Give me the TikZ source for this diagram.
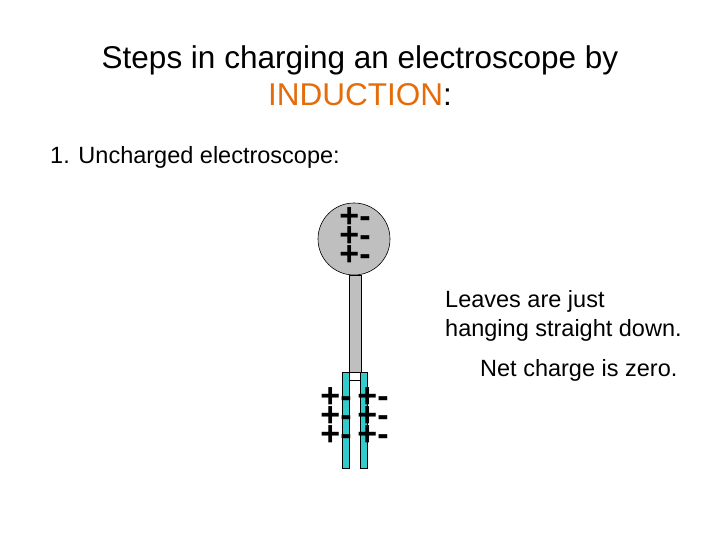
\documentclass[tikz,border=0pt]{standalone}
\usepackage{fontspec}
\setmainfont{Liberation Sans}
\begin{document}
\begin{tikzpicture}[x=1pt,y=-1pt,
  txt/.style={inner sep=0pt,font=\fontsize{23.5}{29}\selectfont},
  chg/.style={inner sep=0pt,font=\fontsize{34}{30}\selectfont\bfseries},
  metal/.style={fill=gray!50,draw=black,line width=0.6pt}]
\definecolor{leafc}{HTML}{33CCCC}
\useasboundingbox (0,0) rectangle (720,540);
\node[inner sep=0pt,align=center,font=\fontsize{31.5}{37}\selectfont] (title) at (360,76)
  {Steps in charging an electroscope by\\{\color[HTML]{E46C0A}INDUCTION}:};
\node[txt,anchor=west] (step) at (50,157) {1. Uncharged electroscope:};
\node[txt,anchor=west,align=left] (leaves) at (445,316) {Leaves are just\\hanging straight down.};
\node[txt,anchor=west] (net) at (480,370) {Net charge is zero.};
\node[metal,circle,minimum size=72pt,inner sep=0pt] (knob) at (354,239) {};
\draw[metal] (349,275) rectangle (361,372);
\draw[fill=white,draw=black,line width=0.6pt] (342,372) rectangle (367,380);
\draw[fill=leafc,draw=black,line width=0.6pt] (342,372) rectangle (349,468);
\draw[fill=leafc,draw=black,line width=0.6pt] (360,372) rectangle (367,468);
\foreach \y/\n in {218/1,237/2,256/3}{
  \node[chg] (k\n) at (355,\y) {+-};
}
\foreach \y/\n in {398/1,417/2,436/3}{
  \node[chg] (l\n) at (336,\y) {+-};
  \node[chg] (r\n) at (373,\y) {+-};
}
\end{tikzpicture}
\end{document}
